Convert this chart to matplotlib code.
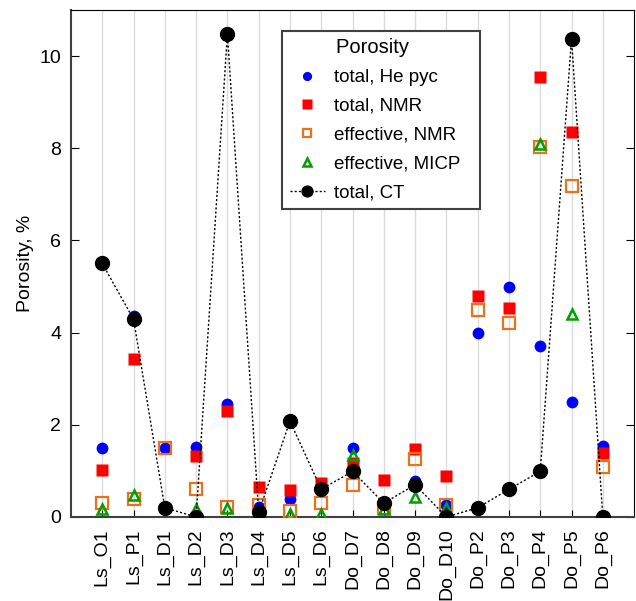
import numpy as np
import matplotlib.pyplot as plt

plt.rcParams['font.family'] = ['Liberation Sans', 'DejaVu Sans']

samples = ['Ls_O1', 'Ls_P1', 'Ls_D1', 'Ls_D2', 'Ls_D3', 'Ls_D4', 'Ls_D5', 'Ls_D6',
           'Do_D7', 'Do_D8', 'Do_D9', 'Do_D10', 'Do_P2', 'Do_P3', 'Do_P4', 'Do_P5', 'Do_P6']
nan = np.nan
he_pyc = [1.5, 4.36, 1.5, 1.52, 2.45, 0.22, 0.38, 0.7, 1.5, 0.3, 0.79, 0.27, 3.99, 4.98, 3.72, 2.49, 1.53]
nmr_total = [1.01, 3.43, nan, 1.33, 2.29, 0.65, 0.58, 0.74, 1.17, 0.8, 1.48, 0.89, 4.8, 4.53, 9.55, 8.35, 1.38]
nmr_eff = [0.31, 0.38, 1.5, 0.61, 0.22, 0.27, 0.13, 0.3, 0.69, 0.2, 1.25, 0.27, 4.48, 4.21, 8.02, 7.19, 1.08]
micp_eff = [0.17, 0.47, nan, 0.18, 0.2, nan, 0.07, 0.06, 1.35, 0.17, 0.44, 0.2, nan, nan, 8.09, 4.4, nan]
ct_total = [5.5, 4.29, 0.2, 0.0, 10.48, 0.1, 2.08, 0.6, 0.99, 0.3, 0.7, 0.0, 0.2, 0.6, 0.99, 10.38, 0.0]

x = np.arange(len(samples))

fig = plt.figure(figsize=(6.36, 6.01), dpi=100)
ax = fig.add_axes([0.1116, 0.1398, 0.8854, 0.8436])

for xi in x:
    ax.axvline(xi, color='#dcdcdc', lw=1, zorder=0)

ax.plot(x, he_pyc, 'o', color='#0000ff', ms=8.5, mec='none', label='total, He pyc', zorder=2)
ax.plot(x, nmr_total, 's', color='#ff0000', ms=8.5, mec='none', label='total, NMR', zorder=3)
ax.plot(x, nmr_eff, 's', mfc='none', mec='#e8731c', mew=1.6, ms=8, label='effective, NMR', zorder=4)
ax.plot(x, micp_eff, '^', mfc='none', mec='#00a000', mew=1.8, ms=7.5, label='effective, MICP', zorder=5)
ax.plot(x, ct_total, linestyle=(0, (1.5, 1.5)), lw=1, color='black', marker='o', ms=10,
        label='total, CT', zorder=6)

ax.set_xlim(-1, len(samples))
ax.set_ylim(0, 11)
ax.set_xticks(x)
ax.set_xticklabels(samples, rotation=90, fontsize=14)
ax.set_yticks([0, 2, 4, 6, 8, 10])
ax.tick_params(axis='y', labelsize=14, direction='in', right=True, length=6, pad=7)
ax.tick_params(axis='x', direction='in', length=5, pad=8)
ax.set_ylabel('Porosity, %', fontsize=14)
for s in ['left', 'bottom']:
    ax.spines[s].set_linewidth(1.5)
    ax.spines[s].set_color('#404040')

leg = ax.legend(title='Porosity   ', loc='upper left', bbox_to_anchor=(0.3748, 0.5, 0.3517, 0.4586),
                mode='expand', fontsize=13.5, title_fontsize=14.5, fancybox=False,
                edgecolor='#404040', framealpha=1, handlelength=1.9, handletextpad=0.45,
                borderpad=0.4, labelspacing=0.62, borderaxespad=0, markerscale=0.78)
leg.get_frame().set_linewidth(1.5)

fig.savefig('out.png', dpi=100)
